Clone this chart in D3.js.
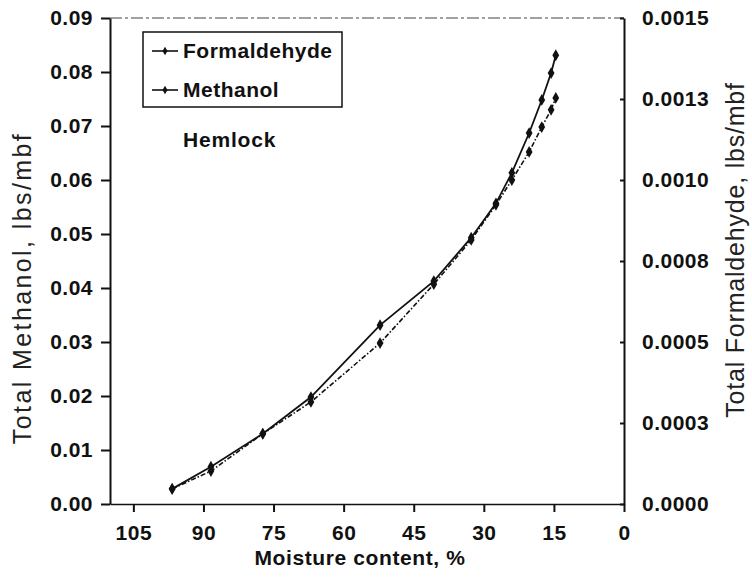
<!DOCTYPE html>
<html>
<head>
<meta charset="utf-8">
<script src="https://cdn.jsdelivr.net/npm/d3@7"></script>
<style>
  html, body { margin: 0; padding: 0; background: #fff; }
  svg { display: block; }
  .tick text { font-family: "Liberation Sans", Arial, sans-serif; font-weight: bold; font-size: 21px; letter-spacing: 0.5px; fill: #111; }
</style>
</head>
<body>
<svg id="chart" width="752" height="579"></svg>
<script>
// ---- Data ----
const moisture = [96.7, 88.4, 77.3, 67.0, 52.2, 40.7, 32.7, 27.4, 24.0, 20.3, 17.6, 15.6, 14.6];
// Total Formaldehyde, lbs/mbf (right axis)
const formaldehyde = [0.0000467, 0.000115, 0.000217, 0.000330, 0.000552, 0.000688, 0.000822, 0.000928, 0.001022, 0.001145, 0.001247, 0.001330, 0.001385];
// Total Methanol, lbs/mbf (left axis)
const methanol = [0.0028, 0.0061, 0.0130, 0.0189, 0.0298, 0.0407, 0.0489, 0.0554, 0.0600, 0.0652, 0.0698, 0.0730, 0.0752];

const xTicks = [105, 90, 75, 60, 45, 30, 15, 0];
const leftTicks = [0, 0.01, 0.02, 0.03, 0.04, 0.05, 0.06, 0.07, 0.08, 0.09];
const rightTicks = [0, 0.00025, 0.0005, 0.00075, 0.001, 0.00125, 0.0015];
const rightTickLabels = ["0.0000", "0.0003", "0.0005", "0.0008", "0.0010", "0.0013", "0.0015"];

const seriesNames = ["Formaldehyde", "Methanol"];

// ---- Layout ----
const L = 110, R = 624, T = 18, B = 504;
const svg = d3.select("#chart");

const x = d3.scaleLinear().domain([110, 0]).range([L, R]);
const yL = d3.scaleLinear().domain([0, 0.09]).range([B, T]);
const yR = d3.scaleLinear().domain([0, 0.0015]).range([B, T]);

// top border (dash-dot)
svg.append("line").attr("x1", L).attr("x2", R).attr("y1", T).attr("y2", T)
  .attr("stroke", "#444").attr("stroke-width", 1.2).attr("stroke-dasharray", "12,3,3,3");

// Axes
const gx = svg.append("g").attr("transform", `translate(0,${B})`)
  .call(d3.axisBottom(x).tickValues(xTicks).tickFormat(d3.format("d")).tickSize(8).tickSizeOuter(0).tickPadding(13));
const gl = svg.append("g").attr("transform", `translate(${L},0)`)
  .call(d3.axisLeft(yL).tickValues(leftTicks).tickFormat(d3.format(".2f")).tickSize(9).tickSizeOuter(0).tickPadding(8));
const gr = svg.append("g").attr("transform", `translate(${R},0)`)
  .call(d3.axisRight(yR).tickValues(rightTicks).tickFormat((d, i) => rightTickLabels[i]).tickSize(-4).tickSizeOuter(0).tickPadding(18));

[gx, gl, gr].forEach(g => {
  g.selectAll(".domain").attr("stroke", "#111").attr("stroke-width", 2);
  g.selectAll(".tick line").attr("stroke", "#111").attr("stroke-width", 2);
});
gx.select(".domain").attr("stroke-width", 1.6);

// Lines
const lineF = d3.line().x((d, i) => x(moisture[i])).y(d => yR(d));
const lineM = d3.line().x((d, i) => x(moisture[i])).y(d => yL(d));

svg.append("path").datum(formaldehyde).attr("d", lineF)
  .attr("fill", "none").attr("stroke", "#111").attr("stroke-width", 1.8);
svg.append("path").datum(methanol).attr("d", lineM)
  .attr("fill", "none").attr("stroke", "#111").attr("stroke-width", 1.6)
  .attr("stroke-dasharray", "5,2,1.5,2");

const sym = d3.symbol().type(d3.symbolDiamond).size(40);
svg.append("g").selectAll("path").data(formaldehyde).join("path")
  .attr("d", sym).attr("fill", "#111")
  .attr("transform", (d, i) => `translate(${x(moisture[i])},${yR(d)})`);
svg.append("g").selectAll("path").data(methanol).join("path")
  .attr("d", sym).attr("fill", "#111")
  .attr("transform", (d, i) => `translate(${x(moisture[i])},${yL(d)})`);

// Legend
const lg = svg.append("g");
lg.append("rect").attr("x", 143).attr("y", 32).attr("width", 199).attr("height", 75)
  .attr("fill", "#fff").attr("stroke", "#111").attr("stroke-width", 1.5);
const legendY = [51, 90];
seriesNames.forEach((name, i) => {
  const yy = legendY[i];
  lg.append("line").attr("x1", 152).attr("x2", 178).attr("y1", yy).attr("y2", yy)
    .attr("stroke", "#111").attr("stroke-width", 1.6);
  lg.append("path").attr("d", d3.symbol().type(d3.symbolDiamond).size(22)).attr("fill", "#111")
    .attr("transform", `translate(165,${yy})`);
  lg.append("text").attr("x", 183).attr("y", yy + 7)
    .attr("font-family", "Liberation Sans, Arial, sans-serif").attr("font-weight", "bold")
    .attr("font-size", 21).attr("letter-spacing", 0.5).attr("fill", "#111").text(name);
});

svg.append("text").attr("x", 183).attr("y", 147)
  .attr("font-family", "Liberation Sans, Arial, sans-serif").attr("font-weight", "bold")
  .attr("font-size", 21).attr("letter-spacing", 0.8).attr("fill", "#111").text("Hemlock");

// Axis titles
svg.append("text").attr("x", 360).attr("y", 565).attr("text-anchor", "middle")
  .attr("font-family", "Liberation Sans, Arial, sans-serif").attr("font-weight", "bold")
  .attr("font-size", 21).attr("letter-spacing", 0.6).attr("fill", "#111").text("Moisture content, %");

svg.append("text").attr("transform", "translate(31,288) rotate(-90)").attr("text-anchor", "middle")
  .attr("font-family", "Liberation Sans, Arial, sans-serif")
  .attr("font-size", 25).attr("letter-spacing", 2.4).attr("fill", "#222").text("Total Methanol, lbs/mbf");

svg.append("text").attr("transform", "translate(744,250) rotate(-90)").attr("text-anchor", "middle")
  .attr("font-family", "Liberation Sans, Arial, sans-serif")
  .attr("font-size", 25).attr("letter-spacing", 0.8).attr("fill", "#222").text("Total Formaldehyde, lbs/mbf");
</script>
</body>
</html>
